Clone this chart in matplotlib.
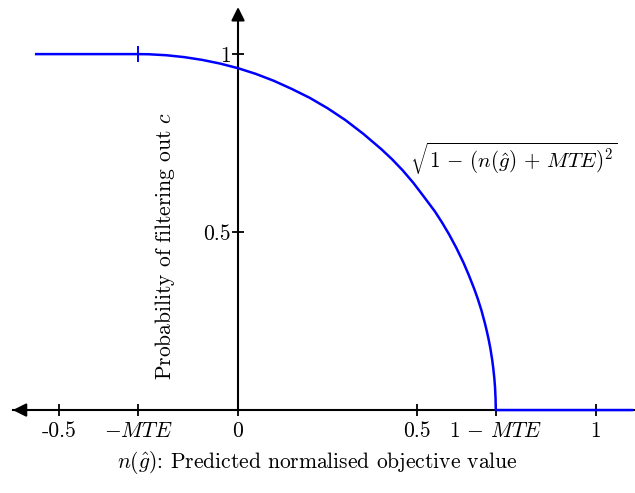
import matplotlib
matplotlib.use('Agg')
import matplotlib.pyplot as plt

# value of MTE
MTE = 0.28

# points of the blue curve
curve_x = [-0.564, -0.28, -0.25, -0.2, -0.15, -0.1, -0.05, 0.0, 0.05, 0.1, 0.15, 0.2, 0.25,
           0.3, 0.35, 0.4, 0.43, 0.46, 0.49, 0.52, 0.55, 0.57, 0.59, 0.61, 0.63, 0.645,
           0.66, 0.67, 0.68, 0.69, 0.695, 0.70, 0.705, 0.71, 0.713, 0.716, 0.718, 0.7195, 0.72, 1.10]
curve_y = [1.0, 1.0, 0.9996, 0.9968, 0.9915, 0.9837, 0.9734, 0.9604, 0.9443, 0.9250, 0.9022,
           0.8773, 0.8480, 0.8146, 0.7760, 0.7332, 0.7049, 0.6734, 0.6380, 0.5983, 0.5580, 0.5268,
           0.4929, 0.4553, 0.4137, 0.3784, 0.3400, 0.3118, 0.2800, 0.2426, 0.2216, 0.1990,
           0.1729, 0.1411, 0.1177, 0.0894, 0.0633, 0.0316, 0.0, 0.0]

xtick_pos = [-0.5, -MTE, 0, 0.5, 1 - MTE, 1]
xtick_labels = ['-0.5', r'$-MTE$', '0', '0.5', r'$1\,-\,MTE$', '1']
ytick_pos = [0.5, 1]
ytick_labels = ['0.5', '1']

plt.rcParams['font.family'] = ['cmr10', 'DejaVu Serif']
plt.rcParams['mathtext.fontset'] = 'cm'
plt.rcParams['axes.unicode_minus'] = False


def draw_axes(ax):
    for side in ['top', 'right']:
        ax.spines[side].set_visible(False)
    ax.spines['left'].set_position('zero')
    ax.spines['bottom'].set_position('zero')
    ax.spines['bottom'].set_bounds(-0.63, 1.12)
    ax.spines['left'].set_bounds(0, 1.12)
    for side in ['left', 'bottom']:
        ax.spines[side].set_linewidth(1.5)
    # arrow heads
    ax.annotate('', xy=(-0.637, 0), xytext=(-0.60, 0),
                arrowprops=dict(arrowstyle='-|>', color='black', lw=1.5, mutation_scale=20))
    ax.annotate('', xy=(1.115, 0), xytext=(1.08, 0),
                arrowprops=dict(arrowstyle='-|>', color='black', lw=1.5, mutation_scale=20))
    ax.annotate('', xy=(0, 1.14), xytext=(0, 1.10),
                arrowprops=dict(arrowstyle='-|>', color='black', lw=1.5, mutation_scale=20))


def set_ticks(ax):
    ax.set_xticks(xtick_pos)
    ax.set_xticklabels(xtick_labels)
    ax.set_yticks(ytick_pos)
    ax.set_yticklabels(ytick_labels)
    ax.tick_params(axis='both', direction='inout', length=9, width=1.3, labelsize=15.5)
    ax.tick_params(axis='x', pad=4)
    ax.tick_params(axis='y', pad=1)


def add_inscriptions(ax):
    ax.text(0.223, -0.146, r'$n(\hat{g})$: Predicted normalised objective value',
            ha='center', va='center', fontsize=15.5)
    ax.text(-0.205, 0.46, r'Probability of filtering out $c$', rotation=90,
            ha='center', va='center', fontsize=15.5)
    ax.text(0.48, 0.705, r'$\sqrt{1\,-\,(n(\hat{g})\,+\,MTE)^2}$', ha='left', va='center',
            fontsize=15.2)


def plot():
    fig = plt.figure(figsize=(6.35, 4.93), dpi=100)
    ax = fig.add_axes([0, 0, 1, 1])
    ax.set_xlim(-0.665, 1.109)
    ax.set_ylim(-0.233, 1.152)
    ax.patch.set_visible(False)
    ax.plot(curve_x, curve_y, color='#0000ff', linewidth=1.8, clip_on=False, zorder=3)
    ax.plot([-MTE], [1], marker='|', markersize=11, markeredgewidth=1.4, color='#0000ff', zorder=3)
    draw_axes(ax)
    set_ticks(ax)
    add_inscriptions(ax)
    fig.savefig('out.png', dpi=100)


if __name__ == '__main__':
    plot()
